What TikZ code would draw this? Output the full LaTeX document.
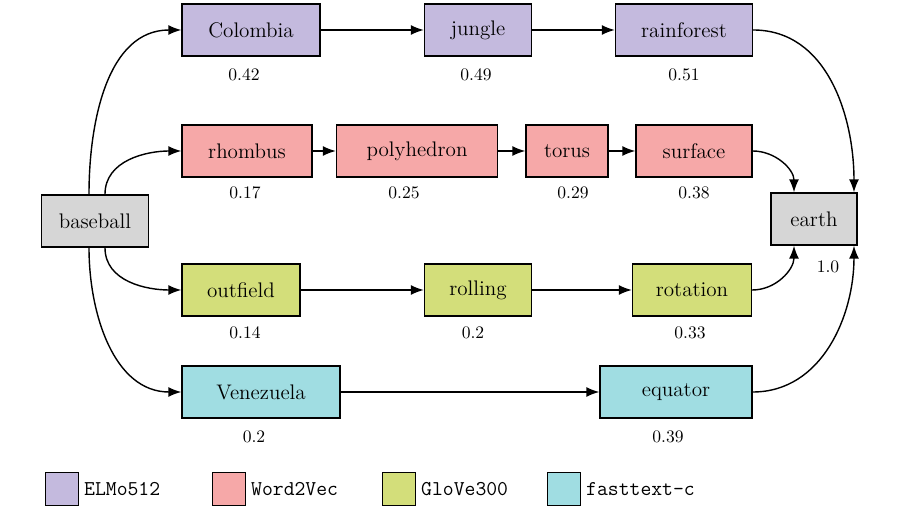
\documentclass[tikz,border=0pt]{standalone}
\usetikzlibrary{arrows.meta}
\definecolor{elmo}{RGB}{196,186,222}
\definecolor{wtv}{RGB}{246,168,168}
\definecolor{glove}{RGB}{211,222,122}
\definecolor{fast}{RGB}{160,221,226}
\definecolor{base}{RGB}{214,214,214}
\begin{document}
\begin{tikzpicture}
[
	x=0.02cm, y=-0.02cm,
% Word box style
	word/.style={
		draw,
		thick,
		font=\large,
		inner sep=0pt,
		minimum height=1.04cm},
% Score style
	score/.style={
		font=\normalsize},
% Arrow style
	link/.style={
		thick,
		-{Latex[length=2.6mm,width=2mm]}},
% Legend square style
	key/.style={
		draw,
		thick,
		minimum size=0.66cm,
		inner sep=0pt},
]
\useasboundingbox (0,0) rectangle (900,506);

% Source and target
\node[word, fill=base, minimum width=2.14cm] (baseball) at (95,221) {baseball};
\node[word, fill=base, minimum width=1.72cm] (earth) at (814,219) {earth};
\node[score] at (828,267) {1.0};

% ELMo row
\node[word, fill=elmo, minimum width=2.76cm] (colombia) at (251,30) {Colombia};
\node[word, fill=elmo, minimum width=2.14cm] (jungle) at (478,30) {jungle};
\node[word, fill=elmo, minimum width=2.74cm] (rainforest) at (684,30) {rainforest};
\node[score] at (244,75) {0.42};
\node[score] at (476,75) {0.49};
\node[score] at (684,75) {0.51};

% Word2Vec row
\node[word, fill=wtv, minimum width=2.6cm] (rhombus) at (247,151) {rhombus};
\node[word, fill=wtv, minimum width=3.22cm] (polyhedron) at (417,151) {polyhedron};
\node[word, fill=wtv, minimum width=1.64cm] (torus) at (567,151) {torus};
\node[word, fill=wtv, minimum width=2.32cm] (surface) at (694,151) {surface};
\node[score] at (245,193) {0.17};
\node[score] at (404,193) {0.25};
\node[score] at (573,193) {0.29};
\node[score] at (694,193) {0.38};

% GloVe row
\node[word, fill=glove, minimum width=2.36cm] (outfield) at (241,290) {outfield};
\node[word, fill=glove, minimum width=2.14cm] (rolling) at (478,290) {rolling};
\node[word, fill=glove, minimum width=2.38cm] (rotation) at (692,290) {rotation};
\node[score] at (245,333) {0.14};
\node[score] at (473,333) {0.2};
\node[score] at (690,333) {0.33};

% fasttext row
\node[word, fill=fast, minimum width=3.16cm] (venezuela) at (261,392) {Venezuela};
\node[word, fill=fast, minimum width=3.04cm] (equator) at (676,392) {equator};
\node[score] at (254,437) {0.2};
\node[score] at (668,437) {0.39};

% Chains
\draw[link] (colombia) -- (jungle);
\draw[link] (jungle) -- (rainforest);
\draw[link] (rhombus) -- (polyhedron);
\draw[link] (polyhedron) -- (torus);
\draw[link] (torus) -- (surface);
\draw[link] (outfield) -- (rolling);
\draw[link] (rolling) -- (rotation);
\draw[link] (venezuela) -- (equator);

% From baseball
\draw[link] ([xshift=-0.12cm]baseball.north) to[out=90, in=180] (colombia.west);
\draw[link] ([xshift=0.2cm]baseball.north) to[out=90, in=180] (rhombus.west);
\draw[link] ([xshift=0.2cm]baseball.south) to[out=-90, in=180] (outfield.west);
\draw[link] ([xshift=-0.12cm]baseball.south) to[out=-90, in=180] (venezuela.west);

% Into earth
\draw[link] (rainforest.east) to[out=0, in=90] ([xshift=0.8cm]earth.north);
\draw[link] (surface.east) to[out=0, in=90] ([xshift=-0.4cm]earth.north);
\draw[link] (rotation.east) to[out=0, in=-90] ([xshift=-0.4cm]earth.south);
\draw[link] (equator.east) to[out=0, in=-90] ([xshift=0.8cm]earth.south);

% Legend
\node[key, fill=elmo] (kelmo) at (62,489) {};
\node[anchor=west, font=\large\ttfamily] (telmo) at (78,489) {ELMo512};
\node[key, fill=wtv] (kwtv) at (229,489) {};
\node[anchor=west, font=\large\ttfamily] (twtv) at (245,489) {Word2Vec};
\node[key, fill=glove] (kglove) at (399,489) {};
\node[anchor=west, font=\large\ttfamily] (tglove) at (415,489) {GloVe300};
\node[key, fill=fast] (kfast) at (564,489) {};
\node[anchor=west, font=\large\ttfamily] (tfast) at (580,489) {fasttext-c};
\end{tikzpicture}
\end{document}
